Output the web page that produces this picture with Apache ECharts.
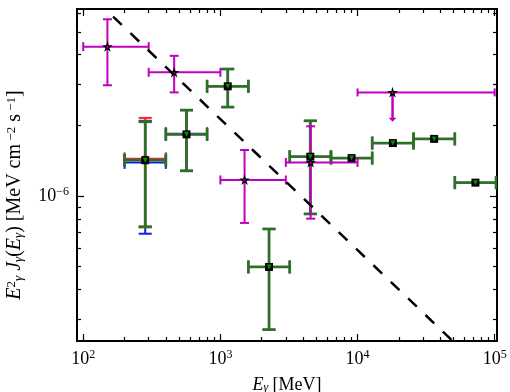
<!DOCTYPE html>
<html>
<head>
<meta charset="utf-8">
<title>Gamma-ray spectrum</title>
<script src="https://cdn.jsdelivr.net/npm/echarts@6/dist/echarts.min.js"></script>
<style>
  html, body { margin: 0; padding: 0; background: #fff; }
  #chart { width: 510px; height: 392px; }
</style>
</head>
<body>
<div id="chart"></div>
<script>
// binned spectrum, factor-2 energy bins (MeV) and E^2 J (MeV cm^-2 s^-1)
var binE   = [283, 566, 1131, 2263, 4525, 9050, 18100, 36200, 72400];
var binElo = [200, 400, 800, 1600, 3200, 6400, 12800, 25600, 51200];
var binEhi = [400, 800, 1600, 3200, 6400, 12800, 25600, 51200, 102400];
var binF   = [1.42e-6, 1.83e-6, 2.93e-6, 4.99e-7, 1.47e-6, 1.45e-6, 1.68e-6, 1.75e-6, 1.14e-6];
var binFlo = [7.40e-7, 1.28e-6, 2.39e-6, 2.70e-7, 8.39e-7, 1.45e-6, 1.68e-6, 1.75e-6, 1.14e-6];
var binFhi = [2.07e-6, 2.32e-6, 3.47e-6, 7.24e-7, 2.09e-6, 1.45e-6, 1.68e-6, 1.75e-6, 1.14e-6];

// other fits, only visible where they differ from the green one
var redE = [283], redElo = [200], redEhi = [400];
var redF = [1.44e-6], redFlo = [7.36e-7], redFhi = [2.15e-6];
var blueE = [283, 566], blueElo = [200, 400], blueEhi = [400, 800];
var blueF = [1.39e-6, 1.84e-6], blueFlo = [6.91e-7, 1.28e-6], blueFhi = [2.09e-6, 2.32e-6];

// magenta points
var magE   = [150, 460, 1500, 4550];
var magElo = [100, 300, 1000, 3000];
var magEhi = [300, 1000, 3000, 10000];
var magF   = [4.32e-6, 3.36e-6, 1.17e-6, 1.39e-6];
var magFlo = [2.96e-6, 2.76e-6, 7.68e-7, 8.01e-7];
var magFhi = [5.65e-6, 3.95e-6, 1.57e-6, 1.98e-6];

// upper limit
var ulE = [18000], ulElo = [10000], ulEhi = [100000];
var ulF = [2.76e-6], ulTip = [2.07e-6];

// dashed power law
var lineE = [165, 50000];
var lineF = [5.8e-6, 2.4e-7];

// ticks
var xMajor = [100, 1000, 10000, 100000];
var xMinor = [200, 300, 400, 500, 600, 700, 800, 900,
              2000, 3000, 4000, 5000, 6000, 7000, 8000, 9000,
              20000, 30000, 40000, 50000, 60000, 70000, 80000, 90000];
var yMajor = [1e-6];
var yMinor = [3e-7, 4e-7, 5e-7, 6e-7, 7e-7, 8e-7, 9e-7, 2e-6, 3e-6, 4e-6, 5e-6, 6e-6];

var X_MIN = 90, X_MAX = 104000, Y_MIN = 2.415e-7, Y_MAX = 6.25e-6;
var SERIF = "'Liberation Serif', 'DejaVu Serif', serif";

function rows(e, elo, ehi, f, flo, fhi) {
  return e.map(function (v, i) { return [v, f[i], elo[i], ehi[i], flo[i], fhi[i]]; });
}

function seg(x1, y1, x2, y2, st) {
  return { type: 'line', shape: { x1: x1, y1: y1, x2: x2, y2: y2 }, style: st };
}

function errBars(color, width, cap) {
  return function (params, api) {
    var e = api.value(0), f = api.value(1);
    var flo = api.value(4), fhi = api.value(5);
    var a = api.coord([api.value(2), f]), b = api.coord([api.value(3), f]);
    var st = { stroke: color, lineWidth: width };
    var kids = [
      seg(a[0], a[1], b[0], b[1], st),
      seg(a[0], a[1] - cap, a[0], a[1] + cap, st),
      seg(b[0], b[1] - cap, b[0], b[1] + cap, st)
    ];
    if (fhi !== flo) {
      var c = api.coord([e, fhi]), d = api.coord([e, flo]);
      kids.push(seg(c[0], c[1], d[0], d[1], st));
      kids.push(seg(c[0] - cap, c[1], c[0] + cap, c[1], st));
      kids.push(seg(d[0] - cap, d[1], d[0] + cap, d[1], st));
    }
    return { type: 'group', children: kids };
  };
}

function ulRender(params, api) {
  var e = api.value(0), f = api.value(1);
  var a = api.coord([api.value(2), f]), b = api.coord([api.value(3), f]);
  var c = api.coord([e, f]), t = api.coord([e, api.value(4)]);
  var st = { stroke: '#c000c0', lineWidth: 2 };
  return { type: 'group', children: [
    seg(a[0], a[1], b[0], b[1], st),
    seg(a[0], a[1] - 4, a[0], a[1] + 4, st),
    seg(b[0], b[1] - 4, b[0], b[1] + 4, st),
    seg(c[0], c[1], t[0], t[1] - 3, { stroke: '#c000c0', lineWidth: 2.5 }),
    { type: 'polygon', shape: { points: [[t[0] - 4, t[1] - 4], [t[0] + 4, t[1] - 4], [t[0], t[1]]] },
      style: { fill: '#c000c0' } }
  ] };
}

function xAxisSide(pos, ticks, len, labels) {
  var ax = {
    type: 'log', logBase: 10, min: X_MIN, max: X_MAX, position: pos,
    axisLine: { show: false }, splitLine: { show: false }, minorTick: { show: false },
    axisTick: { show: true, inside: true, length: len, customValues: ticks,
                lineStyle: { color: '#000', width: 1.2 } },
    axisLabel: { show: false }
  };
  if (labels) {
    ax.axisLabel = {
      show: true, margin: 8, customValues: ticks,
      formatter: function (v) { return '{b|10}{s|' + Math.round(Math.log10(v)) + '}'; },
      rich: {
        b: { fontFamily: SERIF, fontSize: 18, color: '#000', lineHeight: 20 },
        s: { fontFamily: SERIF, fontSize: 12, color: '#000', verticalAlign: 'top', lineHeight: 12 }
      }
    };
    ax.name = '{i|E}{sub|γ} [MeV]';
    ax.nameLocation = 'middle';
    ax.nameGap = 35;
    ax.nameTextStyle = {
      fontFamily: SERIF, fontSize: 18, color: '#000',
      rich: {
        i: { fontFamily: SERIF, fontSize: 18, fontStyle: 'italic', color: '#000' },
        sub: { fontFamily: SERIF, fontSize: 12, fontStyle: 'italic', color: '#000',
               verticalAlign: 'bottom', lineHeight: 10 }
      }
    };
  }
  return ax;
}

function yAxisSide(pos, ticks, len, labels) {
  var ax = {
    type: 'log', logBase: 10, min: Y_MIN, max: Y_MAX, position: pos,
    axisLine: { show: false }, splitLine: { show: false }, minorTick: { show: false },
    axisTick: { show: true, inside: true, length: len, customValues: ticks,
                lineStyle: { color: '#000', width: 1.2 } },
    axisLabel: { show: false }
  };
  if (labels) {
    ax.axisLabel = {
      show: true, margin: 8, customValues: ticks,
      formatter: function (v) {
        return '{b|10}{s|\u2212' + Math.abs(Math.round(Math.log10(v))) + '}';
      },
      rich: {
        b: { fontFamily: SERIF, fontSize: 18, color: '#000', lineHeight: 20 },
        s: { fontFamily: SERIF, fontSize: 12, color: '#000', verticalAlign: 'top', lineHeight: 12 }
      }
    };
  }
  return ax;
}

var chart = echarts.init(document.getElementById('chart'));
chart.setOption({
  animation: false,
  backgroundColor: '#fff',
  grid: { left: 77, right: 13, top: 9, bottom: 51, show: true, borderColor: '#000',
          borderWidth: 2, backgroundColor: 'transparent', outerBoundsMode: 'none' },
  xAxis: [
    xAxisSide('bottom', xMajor, 7, true),
    xAxisSide('bottom', xMinor, 4, false),
    xAxisSide('top', xMajor, 7, false),
    xAxisSide('top', xMinor, 4, false)
  ],
  yAxis: [
    yAxisSide('left', yMajor, 7, true),
    yAxisSide('left', yMinor, 4, false),
    yAxisSide('right', yMajor, 7, false),
    yAxisSide('right', yMinor, 4, false)
  ],
  graphic: [{
    type: 'text', x: 15, y: 195, rotation: Math.PI / 2,
    style: {
      text: '{i|E}{sup|2}{sub|γ}{i| J}{sub|γ}{n|(}{i|E}{sub|γ}{n|) [MeV cm}{sup| \u22122}{n| s}{sup| \u22121}{n|]}',
      align: 'center', verticalAlign: 'middle', fill: '#000',
      fontFamily: SERIF, fontSize: 20,
      rich: {
        i: { fontFamily: SERIF, fontSize: 20, fontStyle: 'italic', fill: '#000' },
        n: { fontFamily: SERIF, fontSize: 20, fill: '#000' },
        sup: { fontFamily: SERIF, fontSize: 13, fill: '#000', verticalAlign: 'top', lineHeight: 12 },
        sub: { fontFamily: SERIF, fontSize: 13, fontStyle: 'italic', fill: '#000',
               verticalAlign: 'bottom', lineHeight: 10 }
      }
    }
  }],
  series: [
    { type: 'custom', name: 'blue', clip: true, z: 2,
      data: rows(blueE, blueElo, blueEhi, blueF, blueFlo, blueFhi),
      renderItem: errBars('#1020e0', 2, 6.5) },
    { type: 'custom', name: 'red', clip: true, z: 2,
      data: rows(redE, redElo, redEhi, redF, redFlo, redFhi),
      renderItem: errBars('#ff2020', 2, 6.5) },
    { type: 'custom', name: 'black', clip: true, z: 2,
      data: rows(binE, binElo, binEhi, binF, binFlo, binFhi),
      renderItem: errBars('#5a5a5a', 2.8, 6.5) },
    { type: 'custom', name: 'green', clip: true, z: 2,
      data: rows(binE, binElo, binEhi, binF, binFlo, binFhi),
      renderItem: errBars('#1d7a14', 1.8, 6.5) },
    { type: 'custom', name: 'magenta', clip: true, z: 3,
      data: rows(magE, magElo, magEhi, magF, magFlo, magFhi),
      renderItem: errBars('#c000c0', 2, 4.5) },
    { type: 'custom', name: 'upper limit', clip: true, z: 3,
      data: rows(ulE, ulElo, ulEhi, ulF, ulTip, ulTip),
      renderItem: ulRender },
    { type: 'scatter', z: 4, symbol: 'path://M50,0 L61,35 L98,35 L68,57 L79,91 L50,70 L21,91 L32,57 L2,35 L39,35 Z',
      symbolSize: 7,
      itemStyle: { color: '#c000c0', borderColor: '#000', borderWidth: 1.2, opacity: 1 },
      data: magE.concat(ulE).map(function (e, i) { return [e, magF.concat(ulF)[i]]; }) },
    { type: 'scatter', z: 5, symbol: 'circle', symbolSize: 7,
      itemStyle: { color: '#ff0000', opacity: 1 },
      data: redE.map(function (e, i) { return [e, redF[i]]; }) },
    { type: 'scatter', z: 5, symbol: 'rect', symbolSize: 8,
      itemStyle: { color: '#000', opacity: 1 },
      data: binE.map(function (e, i) { return [e, binF[i]]; }) },
    { type: 'scatter', z: 6, symbol: 'triangle', symbolRotate: 180, symbolSize: 5,
      itemStyle: { color: '#0a8a0a', opacity: 1 },
      data: binE.map(function (e, i) { return [e, binF[i]]; }) },
    { type: 'line', z: 7, clip: true, symbol: 'none', silent: true,
      lineStyle: { color: '#000', width: 2.5, type: [12, 12] },
      data: lineE.map(function (e, i) { return [e, lineF[i]]; }) }
  ]
});
</script>
</body>
</html>
